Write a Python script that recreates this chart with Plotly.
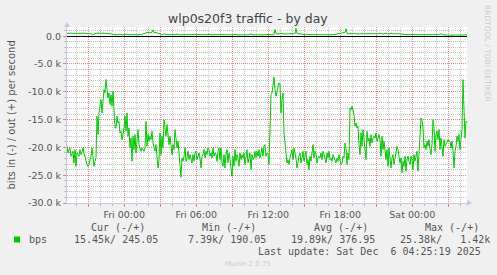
import pandas as pd
import plotly.graph_objects as go

# ---------------- data ----------------
start_time = "2025-12-04 19:13:30"
end_time = "2025-12-06 04:33:30"
step = "5min"

# incoming traffic (k bits/s, magnitude; plotted negative)
bps_in_k = [
    19.8, 21.0, 20.4, 20.1, 21.6, 21.0, 20.7, 22.8, 20.4, 23.4, 21.0, 21.3, 21.6, 20.4, 21.3,
    20.9, 20.1, 21.0, 21.9, 22.8, 23.1, 23.4, 23.1, 22.2, 21.6, 20.1, 21.6, 23.4, 22.5, 21.9,
    14.4, 17.7, 13.8, 12.0, 11.4, 13.8, 10.5, 9.6, 10.2, 7.8, 9.6, 11.1, 10.2, 12.3, 10.5,
    12.6, 9.9, 14.4, 16.5, 16.5, 14.4, 15.6, 15.3, 17.4, 17.1, 18.6, 17.7, 16.5, 14.4, 17.1,
    13.8, 18.0, 16.5, 20.1, 18.3, 22.5, 18.0, 20.4, 17.7, 21.0, 18.9, 16.8, 19.5, 20.4, 20.7,
    20.1, 20.4, 20.7, 20.1, 15.3, 19.8, 17.7, 18.9, 18.0, 18.6, 17.1, 19.2, 19.8, 20.7, 19.5,
    21.6, 23.7, 22.2, 17.4, 21.3, 18.0, 20.1, 15.0, 16.5, 18.0, 15.9, 17.7, 19.5, 18.0, 19.8,
    21.3, 19.5, 20.4, 16.8, 18.6, 20.1, 18.9, 21.0, 23.1, 25.38, 21.9, 22.5, 21.6, 20.1, 22.5,
    21.9, 20.7, 22.2, 21.3, 22.2, 22.8, 21.3, 22.5, 21.0, 20.7, 22.2, 21.6, 21.0, 21.9, 23.7,
    21.6, 21.3, 20.4, 21.9, 20.7, 21.3, 20.1, 20.4, 21.6, 21.0, 21.9, 20.1, 21.6, 21.0, 21.3,
    22.5, 20.7, 20.1, 22.2, 20.1, 22.8, 23.4, 21.3, 23.7, 21.3, 20.4, 22.8, 21.0, 22.2, 23.4,
    25.2, 21.6, 23.4, 20.4, 22.5, 21.3, 21.9, 23.4, 21.0, 22.2, 21.3, 21.9, 21.0, 23.1, 21.6,
    20.4, 22.8, 21.9, 21.0, 24.0, 21.3, 22.2, 21.9, 20.7, 21.9, 20.7, 21.6, 20.4, 21.9, 21.0,
    20.1, 21.6, 19.8, 19.5, 21.6, 21.0, 21.3, 23.1,
    15.0, 10.5, 10.2, 8.7, 7.39, 9.6, 10.8, 9.9, 9.0, 8.4, 8.7, 13.8, 11.4, 10.2, 17.4,
    19.8, 21.9, 22.8, 22.2, 23.1, 21.9, 21.3, 20.4, 22.2, 20.1, 21.0, 21.9, 23.7, 22.2, 21.6,
    21.0, 22.8, 21.9, 20.7, 22.5, 21.3, 20.7, 23.1, 22.2, 24.0, 21.6, 22.5, 21.3, 19.5, 21.9,
    20.7, 21.3, 22.8, 21.9, 21.6, 21.9, 21.0, 22.2, 20.7, 21.3, 21.9, 22.8, 21.0, 21.9, 20.7,
    22.2, 21.9, 22.5, 21.3, 21.9, 22.2, 22.8, 21.9, 22.5, 21.3, 22.2, 23.1, 22.8, 21.6, 21.9,
    19.2, 20.1, 23.1, 21.0, 22.2, 12.9, 13.2, 12.6, 13.5, 14.1, 16.2, 15.6, 16.5, 16.2, 19.5,
    21.3, 17.4, 19.8, 16.8, 18.3, 20.4, 22.2, 17.1, 18.9, 18.3, 19.8, 17.7, 19.2, 18.3, 18.0,
    18.3, 17.4, 18.9, 18.3, 17.7, 18.6, 21.6, 18.0, 20.4, 18.9, 20.7, 22.2, 20.4, 23.4, 20.1,
    22.2, 23.7, 21.9, 21.3, 23.1, 22.2, 21.0, 19.8, 20.4, 21.9, 22.8, 21.9, 24.6, 22.5, 23.4,
    21.6, 24.3, 22.2, 21.6, 22.5, 23.1, 21.6, 22.2, 24.0, 21.3, 22.5, 21.6, 20.7, 24.3, 20.4,
    18.6, 14.7, 15.0, 16.5, 20.1, 19.5, 20.4, 18.9, 19.8, 18.6, 20.4, 21.3, 19.5, 15.0, 16.5,
    20.7, 17.7, 17.1, 18.6, 16.8, 20.4, 18.3, 19.8, 21.6, 18.6, 19.8, 19.5, 18.9, 18.6, 18.9,
    18.9, 20.1, 18.9, 20.7, 23.7, 20.7, 19.8, 18.0, 18.9, 17.7, 20.4, 18.6, 16.8, 7.8, 15.9,
    18.3, 15.3, 15.45,
]

# outgoing traffic (bits/s)
bps_out = [
    520, 540, 500, 540, 560, 540, 500, 540, 520,
    540, 500, 520, 480, 540, 560, 520, 500, 540, 520, 480,
    420, 420, 440, 420, 400, 420,
    300, 320, 480,
    540, 520, 560, 540, 500, 540, 520, 560, 540, 520, 540, 500, 520, 480,
    420, 400, 380,
    280, 260, 270, 250, 280, 270, 260, 400, 270, 260, 250, 270, 280, 260, 390,
    270, 260, 270, 250, 270, 330, 260, 270, 280, 260, 270, 250, 380, 270, 290,
    420, 480, 560, 500, 540, 700, 600, 640, 560, 720, 1150, 680, 620, 700, 560, 500, 460,
    300, 280, 270, 260, 460, 280, 270, 260, 250, 270,
    250, 240, 260, 250, 240, 250, 260, 380, 250, 240, 250, 260, 250, 240, 250,
    260, 250, 240, 250, 260, 250, 240, 250, 260, 250, 420, 260, 250, 240, 250,
    260, 250, 240, 250, 260, 250, 240, 250, 260, 360, 250, 240, 250, 260, 250,
    240, 250, 260, 250, 240, 250, 260, 250, 330, 250, 260, 250, 240, 250, 260,
    250, 240, 250, 260, 250, 360, 250, 240, 250, 260, 250, 240, 250, 260, 250,
    240, 250, 260, 250, 240, 420, 250, 260, 250, 240, 250, 260, 250, 240, 250,
    260, 250, 240, 250, 260, 250, 240, 250, 350, 250, 260, 250, 240, 250, 260,
    1200,
    460, 420, 400, 440, 420, 540, 430, 420, 400, 420, 440, 420, 480, 420, 400, 420, 440, 420, 410, 430,
    1420,
    480, 420, 440, 420, 400, 360,
    280, 260, 270, 250, 420, 270, 260, 280, 260, 360, 270, 250, 260, 280, 270, 260, 250,
    270, 280, 260, 270, 250, 260, 270, 280, 260, 250, 270, 260, 280, 270, 260, 400, 270,
    420, 540, 500, 480, 520, 460, 500, 560, 700,
    1320,
    480, 430, 420, 440, 420, 410, 430, 540, 420, 400, 420, 440, 430, 420,
    410, 420, 540, 440, 420, 400, 420, 430, 410, 420, 540, 420, 400, 430,
    420, 440, 420, 410, 420, 560, 430, 420, 400, 420, 440, 540, 420, 410,
    430, 420, 560, 420, 400, 420, 440, 420, 410, 420, 430, 420, 380, 340,
    280, 260, 270, 250, 260, 280, 270, 260, 250, 270, 280, 260, 270, 250, 260, 270, 280,
    260, 250, 270, 260, 280, 270, 260, 250, 270, 280, 260, 270, 250, 260, 270, 280, 260,
    250, 270, 260, 400, 420, 380, 260,
    200, 195, 200, 190, 200, 195, 200, 190, 200, 195, 200, 190,
    200, 195, 200, 190, 200, 195, 200, 190, 200, 195, 200, 245.05,
]

y_tick_vals = [-30000, -25000, -20000, -15000, -10000, -5000, 0]
y_tick_text = ["-30.0 k", "-25.0 k", "-20.0 k", "-15.0 k", "-10.0 k", "-5.0 k", "0.0"]

x_tick_times = ["2025-12-04 21:00", "2025-12-05 00:00", "2025-12-05 03:00", "2025-12-05 06:00",
                "2025-12-05 09:00", "2025-12-05 12:00", "2025-12-05 15:00", "2025-12-05 18:00",
                "2025-12-05 21:00", "2025-12-06 00:00", "2025-12-06 03:00"]
x_tick_text = ["", "Fri 00:00", "", "Fri 06:00", "", "Fri 12:00", "", "Fri 18:00", "", "Sat 00:00", ""]

title = "wlp0s20f3 traffic - by day"
y_title = "bits in (-) / out (+) per second"
legend_name = "bps"
headers = ["Cur (-/+)", "Min (-/+)", "Avg (-/+)", "Max (-/+)"]
stats = ["15.45k/ 245.05", "7.39k/ 190.05", "19.89k/ 376.95", "25.38k/   1.42k"]
last_update = "Last update: Sat Dec  6 04:25:19 2025"
munin_version = "Munin 2.0.75"
rrd_credit = "RRDTOOL / TOBI OETIKER"

# ---------------- figure ----------------
W, H = 497, 275
L, R, T, B = 67, 30, 27, 72
PW, PH = W - L - R, H - T - B

def px(x):
    return (x - L) / PW

def py(y):
    return (H - B - y) / PH

t_in = pd.date_range(start_time, periods=len(bps_in_k), freq=step)
t_out = pd.date_range(start_time, periods=len(bps_out), freq=step)
green = "#00CC00"

fig = go.Figure()
fig.add_trace(go.Scatter(x=t_in, y=[-v * 1000 for v in bps_in_k], mode="lines",
                         line=dict(color=green, width=1), hoverinfo="skip", showlegend=False))
fig.add_trace(go.Scatter(x=t_out, y=bps_out, mode="lines",
                         line=dict(color=green, width=1), hoverinfo="skip", showlegend=False))

minor_grid = "rgba(150,150,150,0.55)"
major_grid = "rgba(240,120,120,0.75)"
axis_col = "#c8c8e8"
txt = "#555555"

fig.update_xaxes(
    type="date", range=[start_time, end_time],
    tickmode="array", tickvals=x_tick_times, ticktext=x_tick_text,
    showgrid=True, gridcolor=major_grid, griddash="1px,1px", gridwidth=1,
    ticks="outside", ticklen=3, tickcolor="rgba(240,100,100,0.8)",
    minor=dict(tick0="2025-12-04 00:00", dtick=3600000, showgrid=True,
               gridcolor=minor_grid, griddash="1px,1px", ticks="outside", ticklen=2,
               tickcolor="rgba(170,170,170,0.7)"),
    showline=True, linecolor=axis_col, linewidth=1,
    tickfont=dict(family="DejaVu Sans", size=9.5, color=txt),
    zeroline=False, fixedrange=True,
)
fig.update_yaxes(
    range=[-30000, 1650],
    tickmode="array", tickvals=y_tick_vals, ticktext=y_tick_text,
    showgrid=True, gridcolor=major_grid, griddash="1px,1px", gridwidth=1,
    ticks="outside", ticklen=3, tickcolor="rgba(240,100,100,0.8)",
    minor=dict(tick0=0, dtick=1000, showgrid=True, gridcolor=minor_grid,
               griddash="1px,1px", ticks="outside", ticklen=2,
               tickcolor="rgba(170,170,170,0.7)"),
    showline=True, linecolor=axis_col, linewidth=1,
    zeroline=True, zerolinecolor="#000000", zerolinewidth=1,
    tickfont=dict(family="DejaVu Sans", size=9.5, color=txt),
    fixedrange=True,
)

annotations = []

def add_text(text, x, y, size, color=txt, family="DejaVu Sans", xanchor="center", angle=0):
    annotations.append(dict(text=text, x=px(x), y=py(y), xref="paper", yref="paper",
                            xanchor=xanchor, yanchor="middle", showarrow=False,
                            textangle=angle, font=dict(family=family, size=size, color=color)))

nb = lambda s: s.replace(" ", "\u00a0")

add_text(title, 248.3, 18.5, 12.5, color="#444444")
add_text(y_title, 10.5, 115, 10, angle=-90)
add_text(rrd_credit, 488, 53, 7.5, color="#cccccc", angle=90)
add_text(munin_version, 248, 264, 7, color="#cccccc")

mono = "DejaVu Sans Mono"
header_x = [88.8, 199.8, 311.8, 423.0]
stat_x = [72.3, 186.3, 289.0, 397.5]
for h, hx in zip(headers, header_x):
    add_text(nb(h), hx, 227.7, 10, family=mono, xanchor="left")
for s, sx in zip(stats, stat_x):
    add_text(nb(s), sx, 239.3, 10, family=mono, xanchor="left")
add_text(legend_name, 26.5, 239.3, 10, family=mono, xanchor="left")
add_text(nb(last_update), 483.0, 251.0, 10, family=mono, xanchor="right")

shapes = [
    # legend colour box
    dict(type="rect", xref="paper", yref="paper", x0=px(14), x1=px(20), y0=py(242.5), y1=py(236.5),
         fillcolor=green, line=dict(width=0)),
    # axis arrows
    dict(type="path", xref="paper", yref="paper",
         path=f"M {px(467)},{py(200)} L {px(472)},{py(203)} L {px(467)},{py(206)} Z",
         fillcolor=axis_col, line=dict(width=0)),
    dict(type="path", xref="paper", yref="paper",
         path=f"M {px(64)},{py(27)} L {px(67)},{py(22)} L {px(70)},{py(27)} Z",
         fillcolor=axis_col, line=dict(width=0)),
]

fig.update_layout(
    width=W, height=H,
    margin=dict(l=L, r=R, t=T, b=B),
    paper_bgcolor="#F0F0F0", plot_bgcolor="#FFFFFF",
    annotations=annotations, shapes=shapes,
    showlegend=False,
)

fig.write_html("out.html", config={"displayModeBar": False})
